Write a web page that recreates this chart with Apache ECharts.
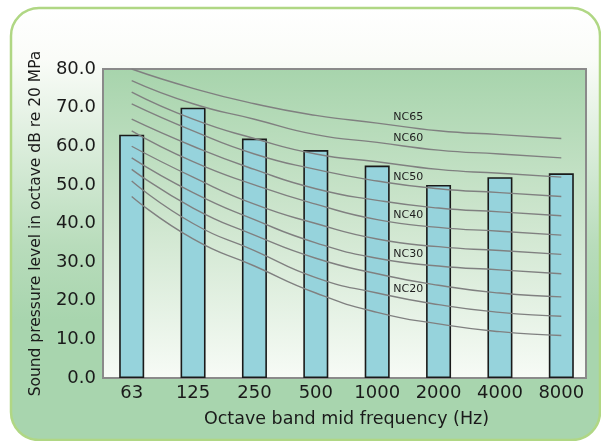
<!DOCTYPE html>
<html>
<head>
<meta charset="utf-8">
<script src="https://cdn.jsdelivr.net/npm/echarts@6/dist/echarts.min.js"></script>
<style>html,body{margin:0;padding:0;background:#fff}#c{width:601px;height:441px}</style>
</head>
<body>
<div id="c"></div>
<script>
// ---- data ----
var categories = ['63', '125', '250', '500', '1000', '2000', '4000', '8000'];
var measured = [63, 70, 62, 59, 55, 50, 52, 53];
var yTicks = [0, 10, 20, 30, 40, 50, 60, 70, 80];
var ncNames = ['NC15', 'NC20', 'NC25', 'NC30', 'NC35', 'NC40', 'NC45', 'NC50', 'NC55', 'NC60', 'NC65'];
var nc15 = [47, 36, 29, 22, 17, 14, 12, 11];
var nc20 = [51, 40, 33, 26, 22, 19, 17, 16];
var nc25 = [54, 44, 37, 31, 27, 24, 22, 21];
var nc30 = [57, 48, 41, 35, 31, 29, 28, 27];
var nc35 = [60, 52, 45, 40, 36, 34, 33, 32];
var nc40 = [64, 56, 50, 45, 41, 39, 38, 37];
var nc45 = [67, 60, 54, 49, 46, 44, 43, 42];
var nc50 = [71, 64, 58, 54, 51, 49, 48, 47];
var nc55 = [74, 67, 62, 58, 56, 54, 53, 52];
var nc60 = [77, 71, 67, 63, 61, 59, 58, 57];
var nc65 = [80, 75, 71, 68, 66, 64, 63, 62];
var ncCurves = [nc15, nc20, nc25, nc30, nc35, nc40, nc45, nc50, nc55, nc60, nc65];
var labelledCurves = ['NC20', 'NC30', 'NC40', 'NC50', 'NC60', 'NC65'];

var chart = echarts.init(document.getElementById('c'), null, {renderer: 'canvas'});
var FONT = 'DejaVu Sans';

var series = [{
  type: 'bar',
  name: 'Measured',
  data: measured,
  barWidth: 25,
  z: 3,
  itemStyle: {color: '#96d3dc', borderColor: '#1a1a1a', borderWidth: 1.6}
}];
ncCurves.forEach(function (arr, i) {
  var s = {
    type: 'line',
    name: ncNames[i],
    data: arr,
    smooth: 0.55,
    symbol: 'none',
    z: 4,
    silent: true,
    lineStyle: {color: '#808080', width: 1.4}
  };
  if (labelledCurves.indexOf(ncNames[i]) >= 0) {
    s.markPoint = {
      symbol: 'circle', symbolSize: 1,
      itemStyle: {color: 'rgba(0,0,0,0)'},
      label: {show: true, position: 'inside', offset: [31, ncNames[i] === 'NC65' ? -6 : -4],
              formatter: ncNames[i], color: '#1e1e1e', fontSize: 11, fontFamily: FONT},
      data: [{coord: [4, arr[4]]}]
    };
  }
  series.push(s);
});

chart.setOption({
  animation: false,
  backgroundColor: '#ffffff',
  graphic: [
    {type: 'rect', z: -10, shape: {x: 11, y: 8, width: 589, height: 432, r: 28},
     style: {fill: new echarts.graphic.LinearGradient(0, 0, 0, 1, [
        {offset: 0, color: '#ffffff'}, {offset: 0.12, color: '#fafcf8'},
        {offset: 0.55, color: '#b8dcbb'}, {offset: 0.72, color: '#a8d5ae'}, {offset: 1, color: '#a8d5ae'}]),
       stroke: '#b0d784', lineWidth: 2.5}},
    {type: 'rect', z: -9, shape: {x: 103, y: 69, width: 483, height: 309},
     style: {fill: new echarts.graphic.LinearGradient(0, 0, 0, 1, [
        {offset: 0, color: '#a7d4ac'}, {offset: 0.5, color: '#cfe6cf'}, {offset: 1, color: '#f7fbf6'}]),
       stroke: '#8a8a8a', lineWidth: 2}}
  ],
  grid: {left: 101, right: 9, top: 69, bottom: 63, show: false},
  xAxis: {
    type: 'category',
    data: categories,
    boundaryGap: true,
    name: 'Octave band mid frequency (Hz)',
    nameLocation: 'middle',
    nameGap: 32,
    nameTextStyle: {fontFamily: FONT, fontSize: 17.5, color: '#1a1a1a'},
    axisLine: {show: false},
    axisTick: {show: false},
    axisLabel: {fontFamily: FONT, fontSize: 18, color: '#1a1a1a', margin: 6}
  },
  yAxis: {
    type: 'value',
    min: 0, max: 80, interval: 10,
    name: 'Sound pressure level in octave dB re 20 MPa',
    nameLocation: 'middle',
    nameRotate: 90,
    nameGap: 57,
    nameTextStyle: {fontFamily: FONT, fontSize: 15.5, color: '#1a1a1a'},
    axisLine: {show: false},
    axisTick: {show: false},
    splitLine: {show: false},
    axisLabel: {fontFamily: FONT, fontSize: 18, color: '#1a1a1a', margin: 5,
      formatter: function (v) { return yTicks.indexOf(v) >= 0 ? v.toFixed(1) : ''; }}
  },
  series: series
});
</script>
</body>
</html>
